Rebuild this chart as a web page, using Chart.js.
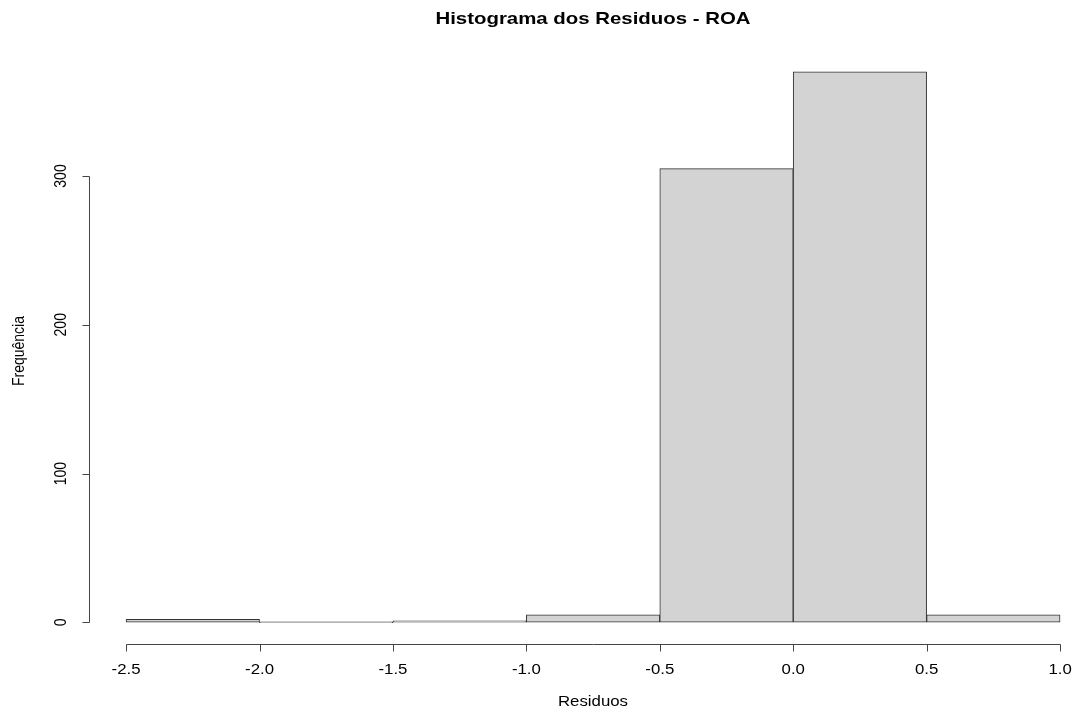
<!DOCTYPE html>
<html>
<head>
<meta charset="utf-8">
<title>Histograma dos Residuos - ROA</title>
<script src="https://cdn.jsdelivr.net/npm/chart.js@4"></script>
<style>
	html, body { margin: 0; padding: 0; background: #fff; }
	#box { width: 1075px; height: 709px; }
	canvas { display: block; }
</style>
</head>
<body>
<div id="box"><canvas id="myChart" width="1075" height="709"></canvas></div>
<script>
// histogram of ROA residuals (bins of 0.5)
const binEdges = [-2.5, -2.0, -1.5, -1.0, -0.5, 0.0, 0.5, 1.0];
const counts = [2, 0, 1, 5, 305, 370, 5];
const xTicks = [-2.5, -2.0, -1.5, -1.0, -0.5, 0.0, 0.5, 1.0];
const yTicks = [0, 100, 200, 300];

const titleText = 'Histograma dos Residuos - ROA';
const xLabel = 'Residuos';
const yLabel = 'Frequência';

// the reference picture is stretched sideways a bit, text too
const stretch = 1.2;

function drawText(c, text, x, y, font, rotate) {
	c.save();
	c.translate(x, y);
	c.scale(stretch, 1);
	if (rotate) c.rotate(-Math.PI / 2);
	c.font = font;
	c.fillStyle = '#000';
	c.textAlign = 'center';
	c.textBaseline = 'alphabetic';
	c.fillText(text, 0, 0);
	c.restore();
}

// R style axes: lines only between first and last tick
const rAxes = {
	id: 'rAxes',
	afterDraw(chart) {
		const c = chart.ctx;
		const x = chart.scales.x;
		const y = chart.scales.y;
		const area = chart.chartArea;
		const tickFont = '14px "Liberation Sans", Arial, sans-serif';

		c.save();
		c.strokeStyle = '#444';
		c.lineWidth = 1;

		// x axis
		const xb = Math.round(area.bottom) + 0.5;
		c.beginPath();
		c.moveTo(Math.round(x.getPixelForValue(xTicks[0])) + 0.5, xb);
		c.lineTo(Math.round(x.getPixelForValue(xTicks[xTicks.length - 1])) + 0.5, xb);
		xTicks.forEach((v) => {
			const px = Math.round(x.getPixelForValue(v)) + 0.5;
			c.moveTo(px, xb);
			c.lineTo(px, xb + 7);
		});
		c.stroke();

		// y axis
		const yl = Math.round(area.left) + 0.5;
		c.beginPath();
		c.moveTo(yl, Math.round(y.getPixelForValue(yTicks[0])) + 0.5);
		c.lineTo(yl, Math.round(y.getPixelForValue(yTicks[yTicks.length - 1])) + 0.5);
		yTicks.forEach((v) => {
			const py = Math.round(y.getPixelForValue(v)) + 0.5;
			c.moveTo(yl, py);
			c.lineTo(yl - 7, py);
		});
		c.stroke();
		c.restore();

		xTicks.forEach((v) => {
			drawText(c, v.toFixed(1), x.getPixelForValue(v), xb + 29, tickFont, false);
		});
		yTicks.forEach((v) => {
			drawText(c, String(v), yl - 24, y.getPixelForValue(v), tickFont, true);
		});

		// title and axis labels
		const mid = (area.left + 1097) / 2;
		drawText(c, titleText, mid, 24, 'bold 17px "Liberation Sans", Arial, sans-serif', false);
		drawText(c, xLabel, mid, 706, tickFont, false);
		drawText(c, yLabel, 24, (area.top + area.bottom) / 2 + 4, tickFont, true);
	},
};

document.addEventListener('DOMContentLoaded', () => {
	const ctx = document.getElementById('myChart');

	new Chart(ctx, {
		type: 'bar',
		data: {
			datasets: [
				{
					label: 'Frequência',
					data: counts.map((c, i) => ({ x: (binEdges[i] + binEdges[i + 1]) / 2, y: c })),
					backgroundColor: '#d3d3d3',
					borderColor: '#333',
					borderWidth: 1,
					borderSkipped: false,
					barPercentage: 1,
					categoryPercentage: 1,
					minBarLength: 1,
				},
			],
		},
		options: {
			responsive: false,
			animation: false,
			devicePixelRatio: 1,
			layout: {
				padding: { left: 89, top: 50, right: 0, bottom: 65 },
			},
			scales: {
				x: {
					type: 'linear',
					display: false,
					offset: false,
					min: -2.639,
					max: 1.056,
				},
				y: {
					type: 'linear',
					display: false,
					min: -14.6,
					max: 384.7,
				},
			},
			plugins: {
				legend: { display: false },
				tooltip: { enabled: false },
				title: { display: false },
			},
		},
		plugins: [rAxes],
	});
});
</script>
</body>
</html>
